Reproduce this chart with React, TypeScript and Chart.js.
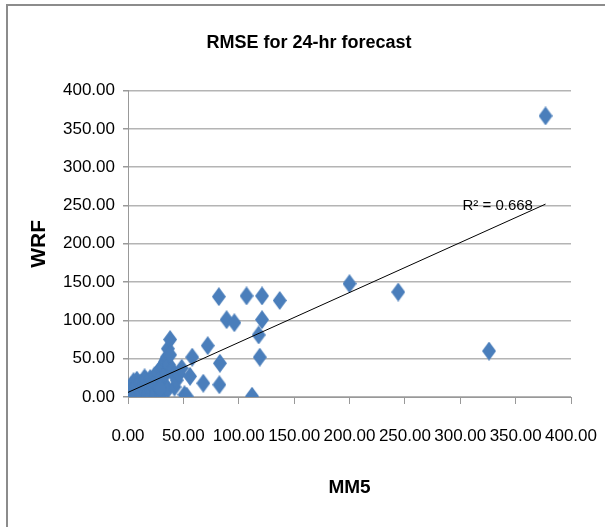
import React, { useEffect, useRef } from "react";
import { Chart, registerables } from "chart.js";

Chart.register(...registerables);

const mm5: number[] = [
  0, 1, 2, 3, 3, 4, 5, 5, 6, 7, 8, 8, 9, 10, 11, 12, 13, 14, 15, 15, 16, 17, 18, 19, 20, 20, 21, 22, 23, 24,
  25, 25, 26, 27, 28, 29, 30, 30, 31, 32, 33, 34, 34, 35, 36, 36, 37, 38, 38, 40, 42, 42, 44, 46, 48.5, 29,
  51, 53, 56, 58, 68, 72, 83, 82.5, 82, 89, 96, 107, 112, 118, 119, 121, 121, 137, 200, 244, 326, 377,
];
const wrf: number[] = [
  0, 2, 5, 1, 15, 8, 3, 20, 12, 6, 22, 15, 2, 10, 18, 4, 14, 20, 8, 25, 22, 12, 3, 17, 24, 1, 9, 20, 15, 28,
  5, 18, 22, 32, 12, 36, 25, 3, 40, 18, 45, 30, 48, 52, 63, 10, 42, 75, 55, 35, 13, 28, 22, 30, 37.5, 11,
  3, 1, 27, 52, 18, 67, 44, 16, 131, 101, 97, 132, 1, 81, 52, 132, 101, 126, 148, 137, 60, 367,
];

const xTicks: number[] = [0, 50, 100, 150, 200, 250, 300, 350, 400];
const yTicks: number[] = [0, 50, 100, 150, 200, 250, 300, 350, 400];

const trendX: number[] = [0, 377];
const trendIntercept = 6;
const trendSlope = 0.652;
const r2Text = "R\u00B2 = 0.668";
const r2LabelX = 302;
const r2LabelY = 249;

const titleText = "RMSE for 24-hr forecast";
const xTitle = "MM5";
const yTitle = "WRF";

const SANS = '"Liberation Sans", Arial, sans-serif';
const MARKER = "#4a7ebb";

export default function App() {
  const ref = useRef<HTMLCanvasElement | null>(null);

  useEffect(() => {
    if (!ref.current) return;
    const marker = document.createElement("canvas");
    marker.width = 14;
    marker.height = 19;
    const g = marker.getContext("2d")!;
    g.fillStyle = MARKER;
    g.beginPath();
    g.moveTo(7, 0);
    g.lineTo(14, 9.5);
    g.lineTo(7, 19);
    g.lineTo(0, 9.5);
    g.closePath();
    g.fill();

    const points = mm5.map((x, i) => ({ x, y: wrf[i] }));
    const trend = trendX.map((x) => ({ x, y: trendIntercept + trendSlope * x }));

    const r2Plugin = {
      id: "r2label",
      afterDatasetsDraw(chart: any) {
        const { ctx, scales } = chart;
        ctx.save();
        ctx.font = `15px ${SANS}`;
        ctx.fillStyle = "#000";
        ctx.textAlign = "left";
        ctx.textBaseline = "middle";
        ctx.fillText(r2Text, scales.x.getPixelForValue(r2LabelX), scales.y.getPixelForValue(r2LabelY));
        ctx.restore();
      },
    };

    const chart = new Chart(ref.current, {
      type: "scatter",
      data: {
        datasets: [
          {
            type: "line",
            data: trend,
            borderColor: "#000",
            borderWidth: 1,
            pointRadius: 0,
            fill: false,
            order: 0,
          } as any,
          {
            data: points,
            pointStyle: marker as any,
            pointRadius: 8,
            backgroundColor: MARKER,
            order: 1,
          },
        ],
      },
      options: {
        responsive: false,
        animation: false,
        events: [],
        layout: { padding: { left: 13, right: 0, top: 0, bottom: 0 } },
        plugins: {
          legend: { display: false },
          tooltip: { enabled: false },
          title: {
            display: true,
            text: titleText,
            color: "#000",
            font: { family: SANS, size: 18, weight: "bold" },
            padding: { top: 32, bottom: 37 },
          },
        },
        scales: {
          x: {
            type: "linear",
            position: "bottom",
            min: 0,
            max: 400,
            afterBuildTicks: (s: any) => {
              s.ticks = xTicks.map((v) => ({ value: v }));
            },
            afterFit: (s: any) => {
              s.height = 130;
              s.paddingLeft = 0;
              s.paddingRight = 0;
            },
            ticks: {
              color: "#000",
              font: { family: SANS, size: 17 },
              padding: 22,
              autoSkip: false,
              maxRotation: 0,
              minRotation: 0,
              callback: (v: any) => Number(v).toFixed(2),
            },
            grid: { drawOnChartArea: false, drawTicks: true, tickLength: 7, tickColor: "#999" },
            border: { display: true, color: "#999", width: 1 },
            title: {
              display: true,
              text: xTitle,
              color: "#000",
              font: { family: SANS, size: 19, weight: "bold" },
              padding: { top: 0, bottom: 28 },
            },
          },
          y: {
            type: "linear",
            min: 0,
            max: 400,
            afterBuildTicks: (s: any) => {
              s.ticks = yTicks.map((v) => ({ value: v }));
            },
            afterFit: (s: any) => {
              s.width = 115;
              s.paddingTop = 0;
              s.paddingBottom = 0;
            },
            ticks: {
              color: "#000",
              font: { family: SANS, size: 17 },
              padding: 8,
              autoSkip: false,
              callback: (v: any) => Number(v).toFixed(2),
            },
            grid: { color: "#b4b4b4", lineWidth: 1.5, drawTicks: true, tickLength: 5, tickColor: "#999" },
            border: { display: true, color: "#999", width: 1 },
            title: {
              display: true,
              text: yTitle,
              color: "#000",
              font: { family: SANS, size: 21, weight: "bold" },
              padding: { top: 14, bottom: 0 },
            },
          },
          yRight: {
            type: "linear",
            position: "right",
            min: 0,
            max: 400,
            display: true,
            afterFit: (s: any) => {
              s.width = 34;
              s.paddingTop = 0;
              s.paddingBottom = 0;
            },
            ticks: { display: false },
            grid: { display: false, drawOnChartArea: false, drawTicks: false },
            border: { display: false },
          },
        },
      },
      plugins: [r2Plugin],
    });
    return () => chart.destroy();
  }, []);

  return (
    <div style={{ position: "absolute", left: 0, top: 0, width: 605, height: 527, background: "#fff" }}>
      <div
        style={{
          position: "absolute",
          left: 6,
          top: 4,
          width: 605,
          height: 527,
          borderTop: "2px solid #8c8c8c",
          borderLeft: "2px solid #8c8c8c",
        }}
      />
      <canvas ref={ref} width={605} height={527} style={{ position: "absolute", left: 0, top: 0 }} />
    </div>
  );
}
